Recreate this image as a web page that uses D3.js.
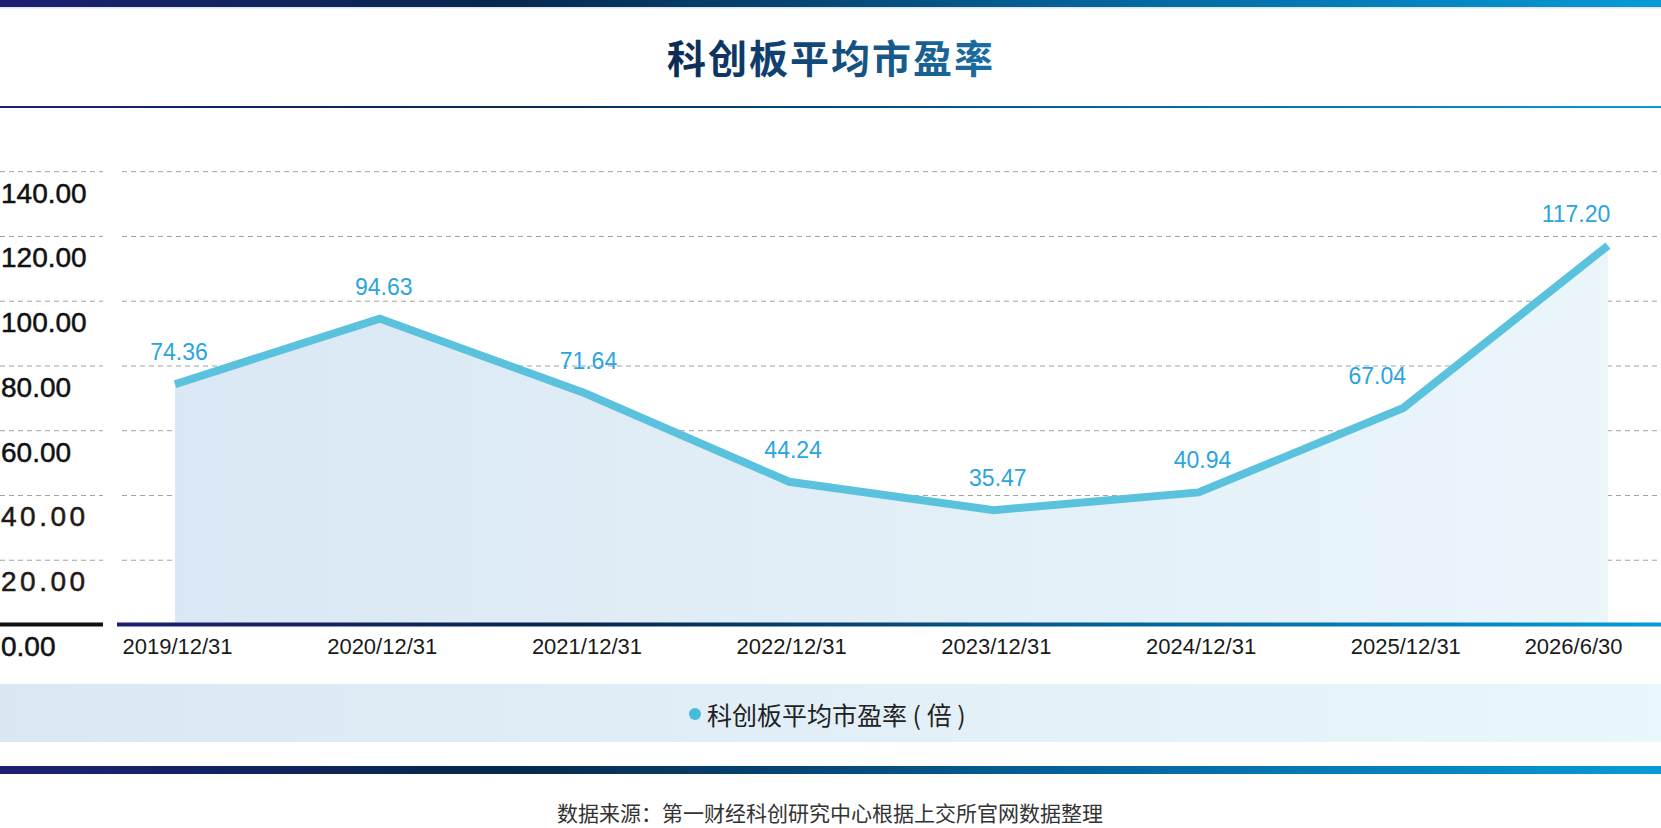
<!DOCTYPE html>
<html>
<head>
<meta charset="utf-8">
<script src="https://cdn.jsdelivr.net/npm/d3@7"></script>
<style>
  html, body { margin: 0; padding: 0; background: #fff; }
  svg { display: block; }
</style>
</head>
<body>
<div id="chart"></div>
<script>
// 数据
const dates = ['2019/12/31', '2020/12/31', '2021/12/31', '2022/12/31', '2023/12/31', '2024/12/31', '2025/12/31', '2026/6/30']
const peValues = [74.36, 94.63, 71.64, 44.24, 35.47, 40.94, 67.04, 117.20]
const yTicks = [0, 20, 40, 60, 80, 100, 120, 140]
const title = '科创板平均市盈率'
const seriesName = '科创板平均市盈率 ( 倍 )'
const source = '数据来源：第一财经科创研究中心根据上交所官网数据整理'

const W = 1661
const H = 828

const svg = d3.select('#chart')
  .append('svg')
  .attr('width', W)
  .attr('height', H)

const defs = svg.append('defs')

// 顶部/底部的渐变条
const barGrad = defs.append('linearGradient').attr('id', 'barGrad')
barGrad.append('stop').attr('offset', '0%').attr('stop-color', '#1d1f73')
barGrad.append('stop').attr('offset', '30%').attr('stop-color', '#06284c')
barGrad.append('stop').attr('offset', '65%').attr('stop-color', '#05629a')
barGrad.append('stop').attr('offset', '100%').attr('stop-color', '#069bd8')

const titleGrad = defs.append('linearGradient').attr('id', 'titleGrad')
titleGrad.append('stop').attr('offset', '0%').attr('stop-color', '#0b2a55')
titleGrad.append('stop').attr('offset', '100%').attr('stop-color', '#1b6fa3')

const areaGrad = defs.append('linearGradient').attr('id', 'areaGrad')
areaGrad.append('stop').attr('offset', '0%').attr('stop-color', '#dae8f5')
areaGrad.append('stop').attr('offset', '100%').attr('stop-color', '#eaf6fa')

const legendGrad = defs.append('linearGradient').attr('id', 'legendGrad')
legendGrad.append('stop').attr('offset', '0%').attr('stop-color', '#dbe8f4')
legendGrad.append('stop').attr('offset', '100%').attr('stop-color', '#e9f6fb')

// 顶部条与标题
svg.append('rect').attr('x', 0).attr('y', 0).attr('width', W).attr('height', 7).attr('fill', 'url(#barGrad)')
svg.append('rect').attr('x', 0).attr('y', 7).attr('width', W).attr('height', 1.5).attr('fill', '#dfe6ee')

svg.append('text')
  .attr('x', 831)
  .attr('y', 56)
  .attr('text-anchor', 'middle')
  .attr('dominant-baseline', 'central')
  .style('font-family', '"Noto Sans CJK SC", sans-serif')
  .style('font-weight', 'bold')
  .style('font-size', '39px')
  .style('letter-spacing', '2px')
  .attr('fill', 'url(#titleGrad)')
  .text(title)

svg.append('rect').attr('x', 0).attr('y', 106).attr('width', W).attr('height', 2).attr('fill', 'url(#barGrad)')

// 比例尺
const x = d3.scalePoint().domain(dates).range([175, 1608])
const y = d3.scaleLinear().domain([0, 140]).range([625, 171.7])

// 网格线（左右两段）
const grid = svg.append('g')
yTicks.filter(t => t > 0).forEach(t => {
  grid.append('line')
    .attr('x1', 0).attr('x2', 103)
    .attr('y1', y(t)).attr('y2', y(t))
    .attr('stroke', '#a3a3a3').attr('stroke-width', 1).attr('stroke-dasharray', '5,4')
  grid.append('line')
    .attr('x1', 122).attr('x2', W)
    .attr('y1', y(t)).attr('y2', y(t))
    .attr('stroke', '#a3a3a3').attr('stroke-width', 1).attr('stroke-dasharray', '5,4')
})

// y 轴刻度文字（位于网格线下方）
const yAxis = d3.axisLeft(y).tickValues(yTicks).tickFormat(d3.format('.2f')).tickSize(0)
const yG = svg.append('g').call(yAxis)
yG.select('.domain').remove()
yG.selectAll('text')
  .attr('x', 1)
  .attr('dy', null)
  .attr('y', 21)
  .attr('text-anchor', 'start')
  .attr('dominant-baseline', 'central')
  .style('font-family', '"Liberation Sans", Arial, sans-serif')
  .style('font-size', '28px')
  .attr('fill', d => (d === 20 || d === 40) ? '#231815' : '#111')
  .attr('stroke', d => (d === 20 || d === 40) ? '#231815' : '#111')
  .attr('stroke-width', 0.5)
  .style('letter-spacing', d => (d === 20 || d === 40) ? '3.5px' : '0px')

// 面积
const area = d3.area()
  .x((d, i) => x(dates[i]))
  .y0(y(0))
  .y1(d => y(d))

svg.append('path')
  .datum(peValues)
  .attr('d', area)
  .attr('fill', 'url(#areaGrad)')

// 基线
svg.append('rect').attr('x', 0).attr('y', 622.5).attr('width', 103).attr('height', 4).attr('fill', '#111')
svg.append('rect').attr('x', 117).attr('y', 622.5).attr('width', W - 117).attr('height', 4).attr('fill', 'url(#barGrad)')

// 折线
const line = d3.line()
  .x((d, i) => x(dates[i]))
  .y(d => y(d))

svg.append('path')
  .datum(peValues)
  .attr('d', line)
  .attr('fill', 'none')
  .attr('stroke', '#5bc2de')
  .attr('stroke-width', 8)
  .attr('stroke-linejoin', 'miter')

// 数值标签：后一段陡升时左移，避免压线
const last = peValues.length - 1
const labelDx = (d, i) => {
  if (i === last) return -32
  if (peValues[i + 1] - d > 30) return -26
  return 4
}
svg.append('g')
  .selectAll('text')
  .data(peValues)
  .enter()
  .append('text')
  .attr('x', (d, i) => x(dates[i]) + labelDx(d, i))
  .attr('y', d => y(d) - 32)
  .attr('text-anchor', 'middle')
  .attr('dominant-baseline', 'central')
  .style('font-family', '"Liberation Sans", Arial, sans-serif')
  .style('font-size', '23px')
  .attr('fill', '#2aa5e0')
  .text(d => d.toFixed(2))

// x 轴
const xAxis = d3.axisBottom(x).tickSize(0)
const xG = svg.append('g').attr('transform', `translate(0,${y(0)})`).call(xAxis)
xG.select('.domain').remove()
xG.selectAll('text')
  .attr('y', 21)
  .attr('dy', null)
  .attr('dominant-baseline', 'central')
  .attr('text-anchor', (d, i) => i === last ? 'end' : 'middle')
  .attr('dx', (d, i) => i === last ? 14 : 2)
  .style('font-family', '"Liberation Sans", Arial, sans-serif')
  .style('font-size', '22px')
  .attr('fill', '#1a1a1a')

// 图例带
svg.append('rect').attr('x', 0).attr('y', 684).attr('width', W).attr('height', 58).attr('fill', 'url(#legendGrad)')
svg.append('circle').attr('cx', 695).attr('cy', 714).attr('r', 6).attr('fill', '#47bcd9')
svg.append('text')
  .attr('x', 707)
  .attr('y', 714)
  .attr('dominant-baseline', 'central')
  .style('font-family', '"Noto Sans CJK SC", sans-serif')
  .style('font-size', '25px')
  .attr('fill', '#222')
  .text(seriesName)

// 底部条与来源
svg.append('rect').attr('x', 0).attr('y', 766).attr('width', W).attr('height', 8).attr('fill', 'url(#barGrad)')

svg.append('text')
  .attr('x', 830)
  .attr('y', 812)
  .attr('text-anchor', 'middle')
  .attr('dominant-baseline', 'central')
  .style('font-family', '"Noto Sans CJK SC", sans-serif')
  .style('font-size', '21px')
  .attr('fill', '#333')
  .text(source)
</script>
</body>
</html>
